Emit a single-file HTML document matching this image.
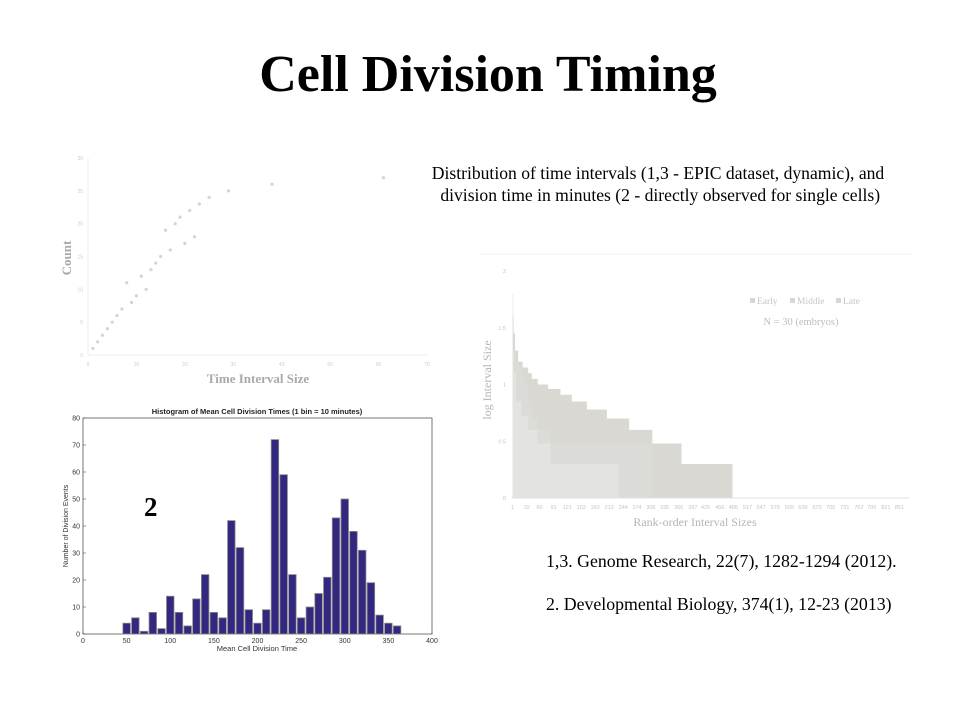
<!DOCTYPE html>
<html><head><meta charset="utf-8"><style>
html,body{margin:0;padding:0;background:#fff;}
body{width:960px;height:720px;position:relative;overflow:hidden;font-family:"Liberation Serif",serif;}
.t{position:absolute;white-space:nowrap;}
</style></head><body>
<div class="t" style="left:0;width:976px;text-align:center;top:45px;font-size:52px;font-weight:bold;">Cell Division Timing</div>
<div class="t" style="left:400px;width:516px;text-align:center;top:162px;font-size:17.6px;line-height:22px;">Distribution of time intervals (1,3 - EPIC dataset, dynamic), and<br>&nbsp;division time in minutes (2 - directly observed for single cells)</div>
<div class="t" style="left:546px;top:551px;font-size:17.8px;">1,3. Genome Research, 22(7), 1282-1294 (2012).</div>
<div class="t" style="left:546px;top:594px;font-size:17.8px;">2. Developmental Biology, 374(1), 12-23 (2013)</div>

<svg id="s1" width="960" height="720" style="position:absolute;left:0;top:0"></svg>
<div class="t" style="left:144px;top:492px;font-size:27px;font-weight:bold;">2</div>

<script>
const ns="http://www.w3.org/2000/svg";
const svg=document.getElementById('s1');
function mk(tag,attrs,parent){const e=document.createElementNS(ns,tag);for(const k in attrs)e.setAttribute(k,attrs[k]);(parent||svg).appendChild(e);return e;}
function txt(x,y,s,attrs){const e=mk('text',Object.assign({x:x,y:y},attrs));e.textContent=s;return e;}

// ---------- Scatter chart (1) ----------
const scatterX=[1,2,3,4,5,6,7,8,9,10,11,12,13,14,15,16,17,18,19,20,21,22,23,25,29,38,61];
const scatterY=[1,2,3,4,5,6,7,11,8,9,12,10,13,14,15,19,16,20,21,17,22,18,23,24,25,26,27];
const scatterXTicks=[0,10,20,30,40,50,60,70];
const scatterYTicks=[0,5,10,15,20,25,30];
const sx=v=>88+v*(427-88)/70, sy=v=>355-v*(355-158)/30;
const g1=mk('g',{});


mk('line',{x1:88,y1:355,x2:427,y2:355,stroke:'#eee','stroke-width':1},g1);
mk('line',{x1:88,y1:158,x2:88,y2:355,stroke:'#eee','stroke-width':1},g1);
scatterXTicks.forEach(v=>{const t=txt(sx(v),366,v,{'font-size':5,'fill':'#ccc','text-anchor':'middle','font-family':'Liberation Sans'});});
scatterYTicks.forEach(v=>{const t=txt(83,sy(v)+2,v,{'font-size':5,'fill':'#ccc','text-anchor':'end','font-family':'Liberation Sans'});});
scatterX.forEach((x,i)=>{const c=mk('circle',{cx:sx(x),cy:sy(scatterY[i]),r:1.6,fill:'#d4d4d0'},g1);});
let a=txt(258,383,'Time Interval Size',{'font-size':13,'font-weight':'bold','fill':'#aaa9a4','text-anchor':'middle','font-family':'Liberation Serif'});

a=txt(0,0,'Count',{'font-size':13,'font-weight':'bold','fill':'#aaa9a4','text-anchor':'middle','font-family':'Liberation Serif',transform:'translate(71,258) rotate(-90)'});


// ---------- Histogram (2) ----------
const histCenters=[50,60,70,80,90,100,110,120,130,140,150,160,170,180,190,200,210,220,230,240,250,260,270,280,290,300,310,320,330,340,350,360];
const histCounts=[4,6,1,8,2,14,8,3,13,22,8,6,42,32,9,4,9,72,59,22,6,10,15,21,43,50,38,31,19,7,4,3];
const histXTicks=[0,50,100,150,200,250,300,350,400];
const histYTicks=[0,10,20,30,40,50,60,70,80];
const hx=v=>83+v*(432-83)/400, hy=v=>634-v*(634-418)/80;
const g2=mk('g',{});


mk('rect',{x:83,y:418,width:349,height:216,fill:'#fff',stroke:'#555','stroke-width':0.8},g2);
histXTicks.forEach(v=>{mk('line',{x1:hx(v),y1:634,x2:hx(v),y2:631,stroke:'#555','stroke-width':0.6},g2);const t=txt(hx(v),643,v,{'font-size':7,'fill':'#333','text-anchor':'middle','font-family':'Liberation Sans'});});
histYTicks.forEach(v=>{mk('line',{x1:83,y1:hy(v),x2:86,y2:hy(v),stroke:'#555','stroke-width':0.6},g2);const t=txt(80,hy(v)+2.5,v,{'font-size':7,'fill':'#333','text-anchor':'end','font-family':'Liberation Sans'});});
const bw=(hx(10)-hx(0))*0.86;
histCenters.forEach((c,i)=>{const r=mk('rect',{x:hx(c)-bw/2,y:hy(histCounts[i]),width:bw,height:hy(0)-hy(histCounts[i]),fill:'#33287f',stroke:'#8a8a8a','stroke-width':0.8},g2);});
a=txt(257,414,'Histogram of Mean Cell Division Times (1 bin = 10 minutes)',{'font-size':7.5,'font-weight':'bold','fill':'#222','text-anchor':'middle','font-family':'Liberation Sans'});

a=txt(257,651,'Mean Cell Division Time',{'font-size':7.5,'fill':'#333','text-anchor':'middle','font-family':'Liberation Sans'});

a=txt(0,0,'Number of Division Events',{'font-size':7,'fill':'#333','text-anchor':'middle','font-family':'Liberation Sans',transform:'translate(68,526) rotate(-90)'});


// ---------- Rank-order area chart (3) ----------
const rankTicks=[1,32,60,91,121,152,182,213,244,274,305,335,366,397,425,456,486,517,547,578,609,639,670,700,731,762,790,821,851];
const logTicks=[0,0.5,1,1.5,2];
const middleEnds=[2,6,13,23,35,43,56,79,106,131,164,208,257,308,372,484];
const middleVals=[1.8,1.45,1.3,1.2,1.15,1.1,1.05,1.0,0.96,0.91,0.85,0.78,0.7,0.6,0.48,0.3];
const lateEnds=[3,8,14,20,26,35,43,56,84,308];
const lateVals=[1.6,1.3,1.2,1.15,1.1,1.0,0.85,0.7,0.6,0.48];
const earlyEnds=[3,8,20,35,56,84,233];
const earlyVals=[1.3,1.1,0.85,0.72,0.6,0.48,0.3];
const rx=v=>512.7+(v-1)*0.455, ry=v=>498-v*(498-271)/2;
const g3=mk('g',{});


mk('line',{x1:480,y1:254,x2:912,y2:254,stroke:'#f0f0f0','stroke-width':1},g3);
function stepPath(ends,vals){let d='M'+rx(1)+','+ry(0);let prev=1;ends.forEach((e,i)=>{d+=' L'+rx(prev)+','+ry(vals[i])+' L'+rx(e)+','+ry(vals[i]);prev=e;});d+=' L'+rx(prev)+','+ry(0)+' Z';return d;}
let p=mk('path',{d:stepPath(middleEnds,middleVals),fill:'#d9d8d3'},g3);
p=mk('path',{d:stepPath(lateEnds,lateVals),fill:'#dbdbd7'},g3);
p=mk('path',{d:stepPath(earlyEnds,earlyVals),fill:'#e3e3e0'},g3);
mk('line',{x1:512,y1:498,x2:909,y2:498,stroke:'#e0e0e0','stroke-width':1},g3);
rankTicks.forEach(v=>{const t=txt(rx(v),509,v,{'font-size':5.5,'fill':'#c4c4c4','text-anchor':'middle','font-family':'Liberation Sans'});});
logTicks.forEach(v=>{const t=txt(506,ry(v)+2,v,{'font-size':5.5,'fill':'#c4c4c4','text-anchor':'end','font-family':'Liberation Sans'});});
a=txt(695,526,'Rank-order  Interval  Sizes',{'font-size':12,'fill':'#b5b5b2','text-anchor':'middle','font-family':'Liberation Serif'});

a=txt(0,0,'log Interval Size',{'font-size':12,'fill':'#b5b5b2','text-anchor':'middle','font-family':'Liberation Serif',transform:'translate(491,380) rotate(-90)'});

const legendNames=['Early','Middle','Late'];
const legendX=[750,790,836];
legendNames.forEach((n,i)=>{const r=mk('rect',{x:legendX[i],y:298,width:5,height:5,fill:'#d6d6d2'},g3);
const t=txt(legendX[i]+7,304,n,{'font-size':9.5,'fill':'#c6c6c3','font-family':'Liberation Serif'});});
a=txt(801,325,'N = 30 (embryos)',{'font-size':10.5,'fill':'#bdbdba','text-anchor':'middle','font-family':'Liberation Serif'});

</script>
</body></html>
